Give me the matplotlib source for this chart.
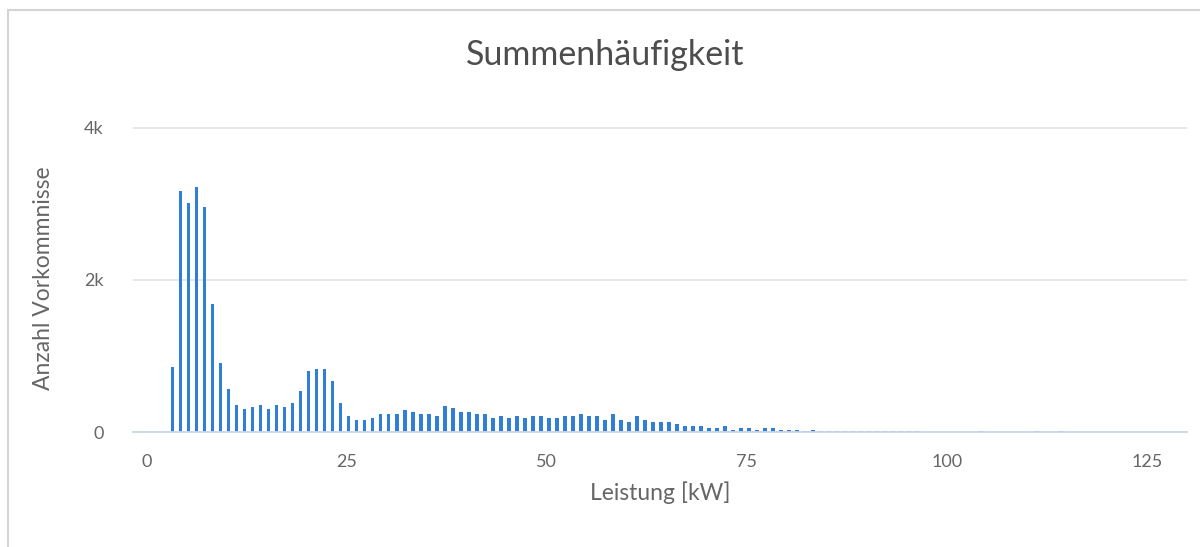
import matplotlib.pyplot as plt
from matplotlib.patches import Rectangle
from matplotlib.ticker import FuncFormatter

# Leistung in kW (Klassen) und Anzahl Vorkommnisse
leistung_kw = list(range(3, 97)) + [104, 111, 114]
anzahl = [
    856, 3166, 3011, 3219, 2954, 1682, 909, 565, 353, 300,      # 3-12
    327, 353, 300, 353, 327, 380, 539, 804, 830, 830,           # 13-22
    671, 380, 215, 162, 160, 187, 240, 240, 240, 293,           # 23-32
    267, 240, 240, 213, 347, 320, 267, 267, 240, 240,           # 33-42
    187, 213, 187, 213, 187, 213, 213, 187, 187, 213,           # 43-52
    213, 240, 213, 213, 160, 240, 160, 133, 213, 160,           # 53-62
    133, 133, 133, 107, 80, 80, 80, 53, 53, 80,                 # 63-72
    27, 53, 53, 27, 53, 53, 27, 27, 27, 8,                      # 73-82
    27, 8, 8, 8, 8, 8, 8, 8, 8, 8,                              # 83-92
    8, 8, 8, 8,                                                 # 93-96
    8, 10, 10,                                                  # 104, 111, 114
]
x_ticks = [0, 25, 50, 75, 100, 125]
y_ticks = [0, 2000, 4000]

plt.rcParams['font.family'] = ['Lato', 'DejaVu Sans']

fig = plt.figure(figsize=(12, 5.47), dpi=100)
ax = fig.add_axes([0.1108, 0.2102, 0.8784, 0.5698])

ax.bar(leistung_kw, anzahl, width=0.48, align='edge', color='#2f7ed8',
       linewidth=0, zorder=3)

ax.set_xlim(-1.71, 130.04)
ax.set_ylim(0, 4100)
ax.set_xticks(x_ticks)
ax.set_yticks(y_ticks)
ax.yaxis.set_major_formatter(FuncFormatter(lambda v, p: '0' if v == 0 else f'{int(v / 1000)}k'))

ax.grid(axis='y', color='#e6e6e6', linewidth=1.3, zorder=0)
for s in ['top', 'right', 'left']:
    ax.spines[s].set_visible(False)
ax.spines['bottom'].set_color('#ccd6eb')
ax.spines['bottom'].set_linewidth(1.3)
ax.spines['bottom'].set_zorder(4)

ax.tick_params(axis='both', length=0, labelsize=13, labelcolor='#666666')
ax.tick_params(axis='y', pad=21)
ax.tick_params(axis='x', pad=16)

fig.text(0.5046, 0.8995, 'Summenhäufigkeit', ha='center', va='center',
         fontsize=24.5, color='#4d4d4d')
fig.text(0.036, 0.492, 'Anzahl Vorkommnisse', rotation=90, ha='center', va='center',
         fontsize=16.5, color='#666666')
fig.text(0.55, 0.0987, 'Leistung [kW]', ha='center', va='center',
         fontsize=16.5, color='#666666')

# heller Rahmen der Karte (oben und links)
fig.patches.append(Rectangle((0.0067, -0.1), 2.0, 1.0817, transform=fig.transFigure,
                             fill=False, edgecolor='#d4d4d4', linewidth=1.5))

fig.savefig('out.png', dpi=100)
